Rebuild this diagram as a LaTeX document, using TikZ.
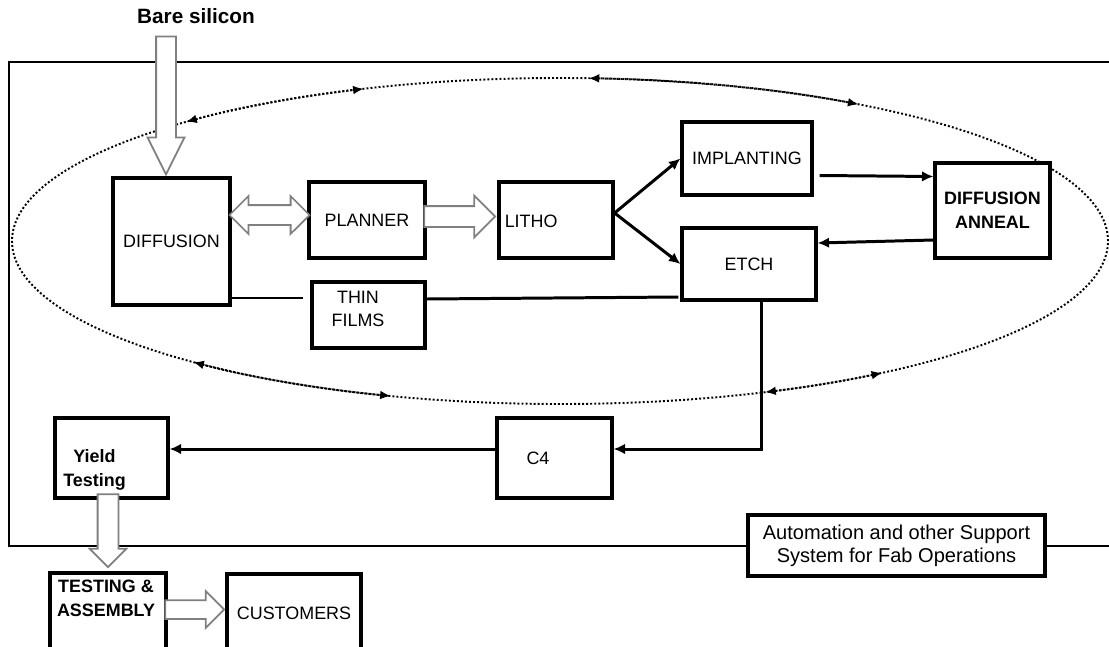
\documentclass[tikz,border=0pt]{standalone}
\usepackage{fontspec}
\setmainfont{Liberation Sans}
\usetikzlibrary{arrows.meta,shapes.arrows}

\begin{document}
\begin{tikzpicture}[
    box/.style={draw, rectangle, fill=white, line width=1.8pt, inner sep=1pt, align=center, font=\fontsize{10.2}{13.5}\selectfont},
    txt/.style={inner sep=0pt, align=center, font=\fontsize{10.2}{13.5}\selectfont},
    bold/.style={font=\fontsize{10.2}{13.5}\selectfont\bfseries},
    flow/.style={line width=1.7pt, -{Latex[length=6.5pt,width=6pt]}},
    plain/.style={line width=1.7pt},
    hollow/.style={single arrow, draw=black!50, line width=1pt, fill=white, inner xsep=0pt, inner ysep=0.18cm, minimum width=0.7cm, single arrow head extend=0.17cm, pos=1, anchor=tip},
    dhollow/.style={double arrow, draw=black!50, line width=1pt, fill=white, inner xsep=0pt, inner ysep=0.18cm, minimum width=0.72cm, double arrow head extend=0.18cm},
    loopline/.style={line width=1.1pt, black, dash pattern=on 1.1pt off 1.2pt},
    looparr/.style={loopline, {Latex[length=6pt,width=5pt]}-{Latex[length=6pt,width=5pt]}}
]
\useasboundingbox (0,0) rectangle (22.18,12.92);

% Fab frame (runs off the right edge)
\draw[line width=1.3pt] (22.6,11.68) -- (0.18,11.68) -- (0.18,2.0) -- (22.6,2.0);

% Dotted process loop
\coordinate (hub) at (11.2,8.1);
\draw[loopline] (hub) ellipse [x radius=10.96, y radius=3.26];
\foreach \a/\b in {133/111, 87/57, 228/252, 292/306}
    \draw[looparr] (hub) ++(\a:10.96 and 3.26) arc[start angle=\a, end angle=\b, x radius=10.96, y radius=3.26];

% Process steps
\node[box, minimum width=2.34cm, minimum height=2.54cm] (diff) at (3.43,8.09) {DIFFUSION};
\node[box, minimum width=2.32cm, minimum height=1.52cm] (planner) at (7.34,8.52) {PLANNER};
\node[box, minimum width=2.28cm, minimum height=1.52cm] (litho) at (11.12,8.52) {};
\node[txt, anchor=west] (lithotxt) at ([xshift=0.14cm,yshift=-0.02cm]litho.west) {LITHO};
\node[box, minimum width=2.6cm, minimum height=1.46cm] (implant) at (14.94,9.75) {IMPLANTING};
\node[box, minimum width=2.68cm, minimum height=1.44cm] (etch) at (14.98,7.64) {ETCH};
\node[box, bold, minimum width=2.3cm, minimum height=1.9cm] (anneal) at (19.85,8.71) {DIFFUSION\\ANNEAL};
\node[box, minimum width=2.26cm, minimum height=1.32cm] (thin) at (7.37,6.62) {};
\node[txt] (thintxt) at ([shift={(-0.21,0.12)}]thin.center) {THIN\\FILMS};

% Back end
\node[box, minimum width=2.3cm, minimum height=1.6cm] (c4) at (11.09,3.76) {};
\node[txt] (c4txt) at ([xshift=-0.33cm]c4.center) {C4};
\node[box, minimum width=2.26cm, minimum height=1.6cm] (yield) at (2.23,3.76) {};
\node[txt, bold] (yieldtxt) at ([shift={(-0.34,-0.24)}]yield.center) {Yield\\Testing};
\node[box, minimum width=2.32cm, minimum height=1.74cm] (testing) at (2.16,0.59) {};
\node[txt, bold] (testingtxt) at ([shift={(-0.04,0.36)}]testing.center) {TESTING \&\\ASSEMBLY};
\node[box, minimum width=2.68cm, minimum height=1.56cm] (customers) at (5.88,0.66) {CUSTOMERS};
\node[box, font=\fontsize{11.4}{13}\selectfont, minimum width=5.94cm, minimum height=1.22cm] (support) at (17.93,2.01) {Automation and other Support\\System for Fab Operations};

% Wafer input
\node[font=\fontsize{11.8}{14}\selectfont\bfseries] (bare) at (3.92,12.6) {Bare silicon};
\coordinate (wafer) at (3.32,12.18);
\path (wafer) -- node[hollow, sloped, allow upside down, minimum height=2.76cm, single arrow tip angle=53] (waferin) {} ([xshift=-0.11cm]diff.north);

% Hollow transfers
\path (diff.east |- planner.west) -- node[dhollow, yshift=0.1cm, minimum height=1.6cm] (diffplan) {} (planner.west);
\path (planner.east) -- node[hollow, yshift=0.07cm, minimum height=1.42cm, inner ysep=0.19cm, minimum width=0.8cm, single arrow head extend=0.21cm] (planlitho) {} ([xshift=-0.02cm]litho.west);
\path (yield.south -| testing.north) -- node[hollow, sloped, allow upside down, minimum height=1.46cm, inner ysep=0.19cm, single arrow head extend=0.16cm] (yieldout) {} ([yshift=0.06cm]testing.north);
\path (testing.east |- customers.west) -- node[hollow, yshift=0.07cm, minimum height=1.18cm, inner ysep=0.17cm, single arrow head extend=0.18cm] (asmcust) {} (customers.west);

% Flow lines
\draw[flow] ([yshift=1.4mm]litho.east) -- (implant.west);
\draw[flow] ([yshift=1.4mm]litho.east) -- (etch.west);
\draw[flow] ([shift={(0.12,-0.34)}]implant.east) -- ([yshift=0.68cm]anneal.west);
\draw[flow] ([yshift=-5.9mm]anneal.west) -- ([yshift=4.2mm]etch.east);
\draw[plain] ([yshift=-1.13cm]diff.east) -- ([shift={(-0.14,0.34)}]thin.west);
\draw[plain] ([yshift=3.2mm]thin.east) -- ([shift={(-0.04,-0.66)}]etch.west);
\draw[flow] ([xshift=2.4mm]etch.south) |- ([yshift=1.8mm]c4.east);
\draw[flow] ([yshift=1.8mm]c4.west) -- ([yshift=1.8mm]yield.east);
\end{tikzpicture}
\end{document}
